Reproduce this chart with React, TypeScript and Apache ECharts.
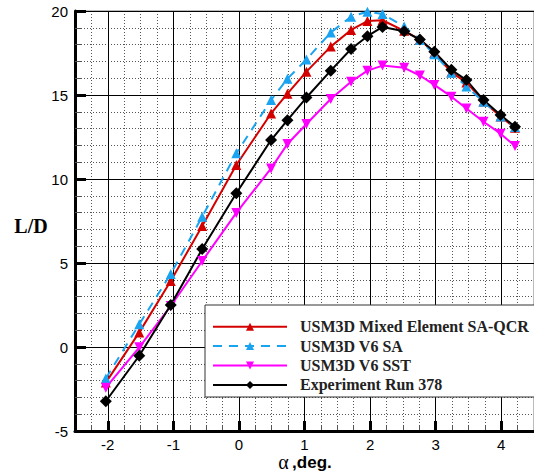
import React, { useEffect, useRef } from "react";
import * as echarts from "echarts";

const alpha = [-2.03, -1.52, -1.04, -0.56, -0.04, 0.49, 0.74, 1.03, 1.4, 1.71, 1.96, 2.19, 2.52, 2.76, 2.98, 3.24, 3.47, 3.73, 3.99, 4.21];
const saQcr = [-2.12, 0.87, 3.93, 7.2, 10.83, 13.9, 15.08, 16.39, 17.88, 18.87, 19.4, 19.45, 18.82, 18.3, 17.5, 16.35, 15.75, 14.62, 13.72, 13.05];
const v6Sa = [-1.87, 1.35, 4.35, 7.76, 11.53, 14.7, 15.97, 17.12, 18.72, 19.66, 19.96, 19.82, 19.07, 18.28, 17.42, 16.33, 15.5, 14.6, 13.72, 13.1];
const v6Sst = [-2.42, -0.02, 2.44, 5.12, 7.98, 10.63, 12.08, 13.27, 14.76, 15.79, 16.45, 16.75, 16.62, 16.16, 15.6, 14.9, 14.2, 13.41, 12.7, 11.96];
const expRun = [-3.23, -0.52, 2.5, 5.83, 9.15, 12.32, 13.5, 14.85, 16.45, 17.74, 18.5, 19.05, 18.8, 18.3, 17.58, 16.5, 15.89, 14.7, 13.81, 13.11];

const xTicks = [-2, -1, 0, 1, 2, 3, 4];
const seriesNames = [
  "USM3D Mixed Element SA-QCR",
  "USM3D V6 SA",
  "USM3D V6 SST",
  "Experiment Run 378",
];

const pairs = (ys: number[]) => alpha.map((a, i) => [a, ys[i]]);

export default function App() {
  const ref = useRef<HTMLDivElement>(null);
  useEffect(() => {
    if (!ref.current) return;
    const chart = echarts.init(ref.current, undefined, { renderer: "svg" });
    const labelFont = { fontFamily: "Liberation Sans", fontSize: 15, color: "#000" };
    chart.setOption({
      animation: false,
      backgroundColor: "#fff",
      grid: {
        left: 75,
        top: 11,
        width: 461,
        height: 420,
        show: true,
        borderColor: "#777",
        borderWidth: 1,
        backgroundColor: "transparent",
      },
      xAxis: [
        {
          type: "value",
          min: -2.5,
          max: 4.5,
          position: "bottom",
          z: 3,
          axisLine: { show: true, onZero: false, lineStyle: { color: "#000", width: 3 } },
          axisTick: { show: true, customValues: xTicks, inside: true, length: 10, lineStyle: { color: "#000", width: 3 } },
          axisLabel: { show: true, customValues: xTicks, margin: 6, ...labelFont },
          splitLine: { show: true, lineStyle: { color: "#000", width: 1 } },
        },
        {
          type: "value",
          min: -2.5,
          max: 4.5,
          interval: 0.25,
          position: "bottom",
          z: 1,
          axisLine: { show: false, onZero: false },
          axisTick: { show: true, inside: true, length: 6, lineStyle: { color: "#555", width: 1 } },
          axisLabel: { show: false },
          splitLine: { show: true, lineStyle: { color: "#555", width: 1, type: [1, 2] } },
        },
      ],
      yAxis: {
        type: "value",
        min: -5,
        max: 20,
        interval: 5,
        z: 3,
        axisLine: { show: true, onZero: false, lineStyle: { color: "#000", width: 3 } },
        axisTick: { show: true, inside: true, length: 11, lineStyle: { color: "#000", width: 3 } },
        minorTick: { show: true, splitNumber: 5, length: 6, lineStyle: { color: "#555", width: 1 } },
        minorSplitLine: { show: true, lineStyle: { color: "#555", width: 1, type: [1, 2] } },
        splitLine: { show: true, lineStyle: { color: "#000", width: 1 } },
        axisLabel: { margin: 7, ...labelFont },
      },
      legend: {
        orient: "vertical",
        left: 212,
        top: 317,
        padding: 0,
        itemGap: 0,
        itemWidth: 74,
        itemHeight: 10,
        z: 10,
        data: seriesNames,
        textStyle: {
          fontFamily: "Liberation Serif",
          fontWeight: "bold",
          fontSize: 16,
          color: "#222",
          lineHeight: 19.4,
          padding: [0, 0, 0, 8],
        },
      },
      graphic: [
        {
          type: "rect",
          z: 9,
          shape: { x: 205, y: 305, width: 340, height: 92 },
          style: { fill: "#fff", stroke: "#333", lineWidth: 1 },
        },
        {
          type: "text",
          x: 31,
          y: 226,
          style: {
            text: "L/D",
            fontFamily: "Liberation Serif",
            fontWeight: "bold",
            fontSize: 20,
            fill: "#000",
            align: "center",
            verticalAlign: "middle",
          },
        },
        {
          type: "text",
          x: 305,
          y: 462,
          style: {
            text: "{a|α} {b|,deg.}",
            align: "center",
            verticalAlign: "middle",
            fill: "#000",
            rich: {
              a: { fontFamily: "Liberation Serif", fontSize: 20, fill: "#000" },
              b: { fontFamily: "Liberation Sans", fontWeight: "bold", fontSize: 17, fill: "#000" },
            },
          },
        },
      ],
      series: [
        {
          name: seriesNames[0],
          type: "line",
          data: pairs(saQcr),
          symbol: "triangle",
          symbolSize: 10,
          color: "#d40000",
          lineStyle: { color: "#d40000", width: 2 },
          itemStyle: { color: "#d40000" },
        },
        {
          name: seriesNames[1],
          type: "line",
          data: pairs(v6Sa),
          symbol: "triangle",
          symbolSize: 10,
          color: "#1aa3f0",
          lineStyle: { color: "#1aa3f0", width: 2, type: [9, 7] },
          itemStyle: { color: "#1aa3f0" },
        },
        {
          name: seriesNames[2],
          type: "line",
          data: pairs(v6Sst),
          symbol: "triangle",
          symbolRotate: 180,
          symbolSize: 10,
          color: "#ff00ff",
          lineStyle: { color: "#ff00ff", width: 2 },
          itemStyle: { color: "#ff00ff" },
        },
        {
          name: seriesNames[3],
          type: "line",
          data: pairs(expRun),
          symbol: "diamond",
          symbolSize: 12,
          color: "#000",
          lineStyle: { color: "#000", width: 2 },
          itemStyle: { color: "#000" },
        },
      ],
    });
    return () => chart.dispose();
  }, []);
  return <div ref={ref} style={{ width: 534, height: 476, position: "absolute", left: 0, top: 0 }} />;
}
